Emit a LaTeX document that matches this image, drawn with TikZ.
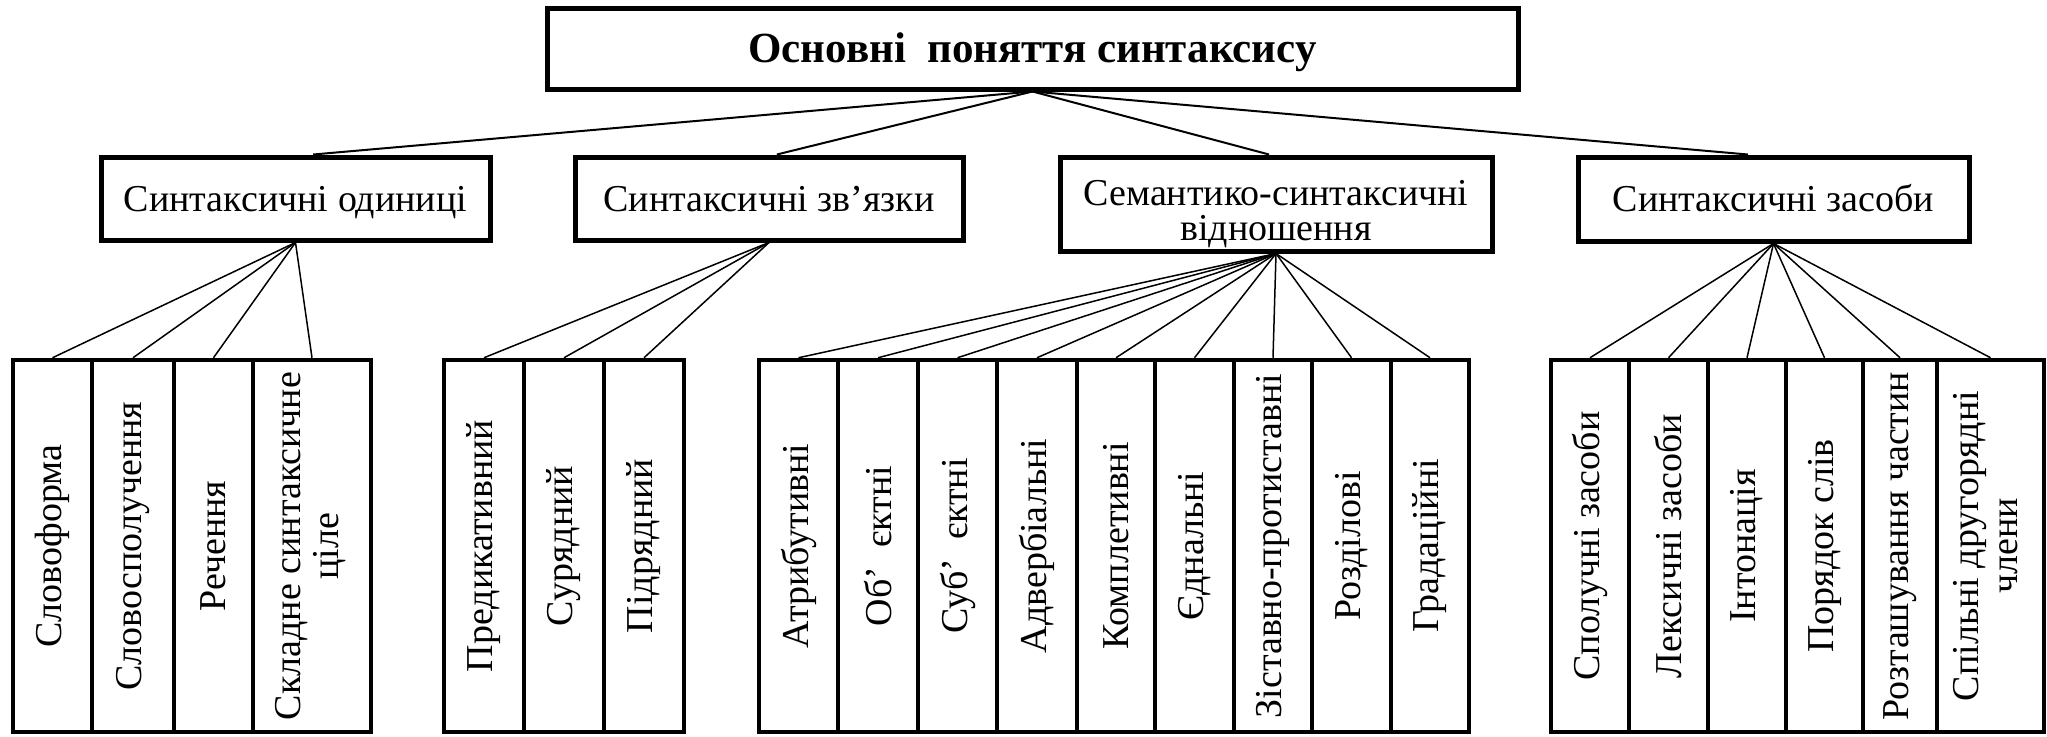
\documentclass[tikz,border=0pt]{standalone}
\usepackage{fontspec}
\setmainfont{Liberation Serif}
\usepackage{graphicx}
\usetikzlibrary{calc}

% one leaf column: name, left edge, right edge, label
\newcommand{\leafcol}[4]{%
  \node[leaf, minimum width={#3pt-#2pt}] (#1) at ({(#2+#3)/2},546) {\rotatebox{90}{#4}};}
\newcommand{\twolines}[3][c]{\begin{tabular}[#1]{@{}c@{}}#2\\#3\end{tabular}}

\begin{document}
\begin{tikzpicture}[x=1pt,y=-1pt,
  txt/.style={font=\fontsize{38}{38.5}\selectfont},
  boxbase/.style={draw, line width=5pt, inner sep=0pt, txt},
  box/.style={boxbase, text height=25pt, text depth=0pt},
  headbox/.style={boxbase, font=\fontsize{43}{48}\selectfont\bfseries, text height=28.5pt, text depth=0pt},
  leaf/.style={draw, line width=4.5pt, inner sep=0pt, minimum height=372pt, txt},
  link/.style={line width=2pt},
  twig/.style={line width=1.5pt}]
\useasboundingbox (0,0) rectangle (2047,736);

% top concept
\node[headbox, minimum width=971pt, minimum height=81pt] (top) at (1032.5,48.5)
  {Основні\ \ поняття синтаксису};

% second level
\node[box, minimum width=389pt, minimum height=83pt] (A) at (295.5,198.5) {Синтаксичні одиниці};
\node[box, minimum width=388pt, minimum height=83pt] (B) at (769,198.5) {Синтаксичні зв’язки};
\node[boxbase, minimum width=432pt, minimum height=94pt, text height=25pt, text depth=23pt,
      font=\fontsize{38}{35}\selectfont] (C) at (1276,204)
  {\twolines[t]{Семантико-синтаксичні}{відношення}};
\node[box, minimum width=391pt, minimum height=84pt] (D) at (1773.5,199) {Синтаксичні засоби};

\draw[link] (top.south) -- ($(A.north west)!0.545!(A.north east)$);
\draw[link] (top.south) -- ($(B.north west)!0.52!(B.north east)$);
\draw[link] (top.south) -- ($(C.north west)!0.484!(C.north east)$);
\draw[link] (top.south) -- ($(D.north west)!0.435!(D.north east)$);

% units
\leafcol{a1}{13}{92}{Словоформа}
\leafcol{a2}{92}{174}{Словосполучення}
\leafcol{a3}{174}{253}{Речення}
\leafcol{a4}{253}{371}{\twolines{Складне синтаксичне}{ціле}}
% links
\leafcol{b1}{444}{524}{Предикативний}
\leafcol{b2}{524}{604}{Сурядний}
\leafcol{b3}{604}{684}{Підрядний}
% relations
\leafcol{c1}{759}{838}{Атрибутивні}
\leafcol{c2}{838}{918}{Об’\hspace{0.5em}єктні}
\leafcol{c3}{918}{997}{Суб’\hspace{0.5em}єктні}
\leafcol{c4}{997}{1077}{Адвербіальні}
\leafcol{c5}{1077}{1155}{Комплетивні}
\leafcol{c6}{1155}{1234}{Єднальні}
\leafcol{c7}{1234}{1312}{Зіставно-протиставні}
\leafcol{c8}{1312}{1391}{Розділові}
\leafcol{c9}{1391}{1469}{Градаційні}
% means
\leafcol{d1}{1551}{1629}{Сполучні засоби}
\leafcol{d2}{1629}{1708}{Лексичні засоби}
\leafcol{d3}{1708}{1786}{Інтонація}
\leafcol{d4}{1786}{1863}{Порядок слів}
\leafcol{d5}{1863}{1937}{Розташування частин}
\leafcol{d6}{1937}{2044}{\twolines{Спільні другорядні}{члени}}

\foreach \n in {a1,a2,a3,a4} \draw[twig] (A.south) -- (\n.north);
\foreach \n in {b1,b2,b3} \draw[twig] (B.south) -- (\n.north);
\foreach \n in {c1,c2,c3,c4,c5,c6,c7,c8,c9} \draw[twig] (C.south) -- (\n.north);
\foreach \n in {d1,d2,d3,d4,d5,d6} \draw[twig] (D.south) -- (\n.north);
\end{tikzpicture}
\end{document}
